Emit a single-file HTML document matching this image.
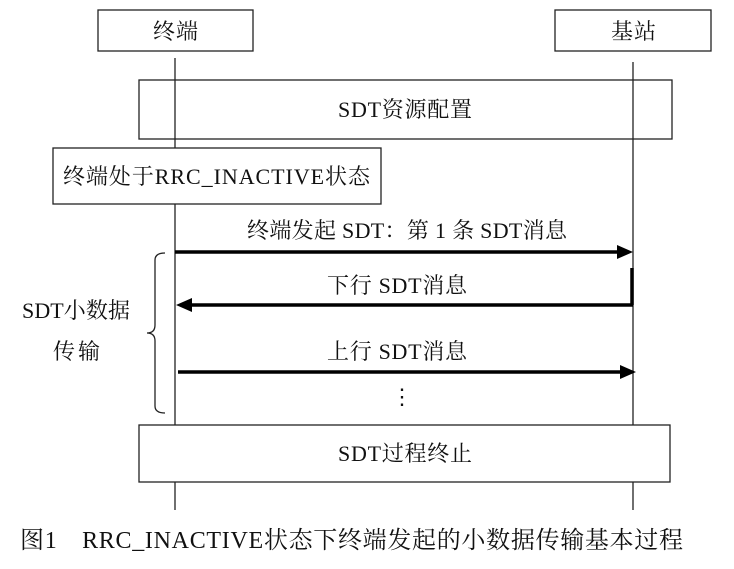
<!DOCTYPE html>
<html><head><meta charset="utf-8"><style>
body{margin:0;background:#fff}
text{font-family:"Liberation Serif","Noto Serif CJK SC",serif;fill:#111}
</style></head><body>
<svg width="734" height="564" viewBox="0 0 734 564" xmlns="http://www.w3.org/2000/svg">
<g stroke="#222" stroke-width="1.3" fill="none">
<rect x="98" y="10" width="155" height="41" fill="#fff"/>
<rect x="555" y="10" width="156" height="41" fill="#fff"/>
<line x1="175" y1="58" x2="175" y2="510"/>
<line x1="633" y1="62" x2="633" y2="510"/>
<rect x="139" y="80" width="533" height="59"/>
<rect x="53" y="148" width="328" height="56" fill="#fff"/>
<rect x="139" y="425" width="531" height="57" fill="#fff"/>
<path d="M165 253 Q155 253 155 260 L155 325 Q155 333 147 333 Q155 333 155 341 L155 406 Q155 413 165 413"/>
</g>
<g stroke="#000" stroke-width="3.5">
<line x1="175" y1="252" x2="620" y2="252"/>
<line x1="190" y1="305" x2="633" y2="305"/>
<line x1="178" y1="372" x2="622" y2="372"/>
<line x1="632" y1="268" x2="632" y2="305"/>
</g>
<polygon points="633,252 617,245 617,259" fill="#000"/>
<polygon points="176,305 192,298 192,312" fill="#000"/>
<polygon points="636,372 620,365 620,379" fill="#000"/>
<g font-size="22" lengthAdjust="spacingAndGlyphs">
<text x="153" y="39" textLength="45">终端</text>
<text x="611" y="39" textLength="45">基站</text>
<text x="338" y="117" textLength="134">SDT资源配置</text>
<text x="63" y="184" textLength="307">终端处于RRC_INACTIVE状态</text>
<text x="247" y="238" textLength="320">终端发起 SDT：第 1 条 SDT消息</text>
<text x="327" y="293" textLength="140">下行 SDT消息</text>
<text x="327" y="359" textLength="140">上行 SDT消息</text>
<text x="391" y="404">⋮</text>
<text x="338" y="461" textLength="134">SDT过程终止</text>
<text x="22" y="318" textLength="108">SDT小数据</text>
<text x="53" y="359" textLength="47">传输</text>
<text x="20" y="548" font-size="24" textLength="663">图1　RRC_INACTIVE状态下终端发起的小数据传输基本过程</text>
</g>
</svg>
</body></html>
